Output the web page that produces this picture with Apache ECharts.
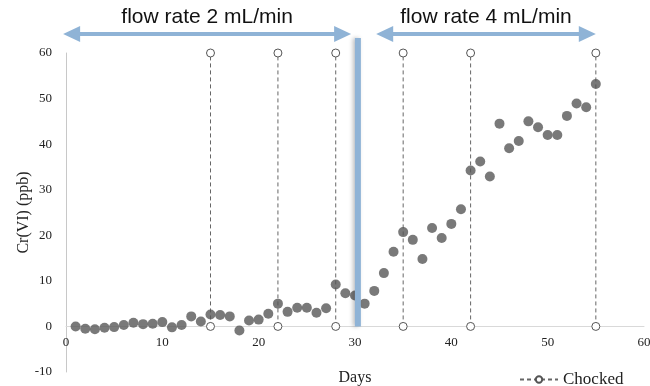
<!DOCTYPE html>
<html><head><meta charset="utf-8">
<script src="https://cdn.jsdelivr.net/npm/echarts@6/dist/echarts.min.js"></script>
<style>html,body{margin:0;padding:0;background:#fff}#c{width:650px;height:386px}</style>
</head><body><div id="c"></div>
<script>
const days = [1,2,3,4,5,6,7,8,9,10,11,12,13,14,15,16,17,18,19,20,21,22,23,24,25,26,27,28,29,30,31,32,33,34,35,36,37,38,39,40,41,42,43,44,45,46,47,48,49,50,51,52,53,54,55];
const cr = [0.0,-0.5,-0.6,-0.3,-0.15,0.3,0.8,0.5,0.6,0.95,-0.2,0.3,2.2,1.1,2.6,2.5,2.2,-0.9,1.3,1.5,2.8,5.0,3.2,4.1,4.1,3.0,4.0,9.2,7.3,6.8,5.0,7.8,11.7,16.4,20.7,19.0,14.8,21.6,19.4,22.5,25.7,34.2,36.2,32.9,44.5,39.1,40.7,45.0,43.7,42.0,42.0,46.2,48.9,48.1,53.2];
const chockedDays = [15,22,28,35,42,55];
const chockedLow = 0, chockedHigh = 60;
const flowChangeDay = 30.3, flowChangeTop = 63.3;
const phaseLabels = ['flow rate 2 mL/min','flow rate 4 mL/min'];
const phaseStart = [-0.3, 32.2];
const phaseEnd = [29.6, 55];
const xMin = 0, xMax = 60, xInterval = 10;
const yMin = -10, yMax = 60, yInterval = 10;

const serif = '"Liberation Serif","Times New Roman",serif';
const sans = '"Liberation Sans",Arial,sans-serif';
const gridTop = 53, gridBottom = 14, H = 386;
const gridH = H - gridTop - gridBottom;
const xAxisOffset = -gridH * (0 - yMin) / (yMax - yMin);
const chart = echarts.init(document.getElementById('c'));

const chockedSeries = chockedDays.map(d => ({
  name: 'Chocked', type: 'line',
  data: [[d, chockedLow], [d, chockedHigh]],
  symbol: 'circle', symbolSize: 8, showSymbol: true,
  lineStyle: {color: '#666', width: 1, type: [4, 3]},
  itemStyle: {color: '#fff', borderColor: '#555', borderWidth: 1},
  z: 3, animation: false
}));

chart.setOption({
  animation: false,
  grid: {left: 66, right: 6, top: gridTop, bottom: gridBottom, containLabel: false, outerBoundsMode: 'none'},
  legend: {
    data: ['Chocked'], left: 514, top: 366, itemWidth: 38, itemHeight: 8, itemGap: 4,
    textStyle: {fontFamily: serif, fontSize: 17, color: '#222'}
  },
  xAxis: {
    type: 'value', min: xMin, max: xMax, interval: xInterval, position: 'bottom', offset: xAxisOffset,
    name: 'Days', nameLocation: 'middle', nameGap: 43, nameMoveOverlap: false,
    nameTextStyle: {fontFamily: serif, fontSize: 16, color: '#222'},
    axisLine: {onZero: false, lineStyle: {color: '#d9d9d9', width: 1}},
    axisTick: {show: false}, splitLine: {show: false},
    axisLabel: {fontFamily: serif, fontSize: 13, color: '#222', margin: 10}
  },
  yAxis: {
    type: 'value', min: yMin, max: yMax, interval: yInterval,
    name: 'Cr(VI) (ppb)', nameLocation: 'middle', nameGap: 34, nameMoveOverlap: false,
    nameTextStyle: {fontFamily: serif, fontSize: 16, color: '#222'},
    axisLine: {show: true, onZero: false, lineStyle: {color: '#c8c8c8', width: 1}},
    axisTick: {show: false}, splitLine: {show: false},
    axisLabel: {fontFamily: serif, fontSize: 13, color: '#222', margin: 14}
  },
  series: [
    {
      name: 'Cr(VI)', type: 'scatter', data: days.map((d, i) => [d, cr[i]]),
      symbolSize: 10, itemStyle: {color: '#575757'}, z: 4
    },
    ...chockedSeries,
    {
      name: 'flowChange', type: 'line', data: [[flowChangeDay, 0], [flowChangeDay, flowChangeTop]],
      symbol: 'none', clip: false, silent: true,
      lineStyle: {color: '#8fb3d6', width: 6, shadowBlur: 4, shadowColor: 'rgba(0,0,0,0.25)', shadowOffsetX: -2},
      z: 6
    }
  ]
});

const arrowColor = '#8fb3d6';
const arrowY = 34, headLen = 17, headHalf = 8, shaftW = 4;
const graphics = [];
phaseLabels.forEach((label, i) => {
  const x1 = chart.convertToPixel({gridIndex: 0}, [phaseStart[i], 0])[0];
  const x2 = chart.convertToPixel({gridIndex: 0}, [phaseEnd[i], 0])[0];
  graphics.push({type: 'line', shape: {x1: x1 + headLen - 2, y1: arrowY, x2: x2 - headLen + 2, y2: arrowY},
    style: {stroke: arrowColor, lineWidth: shaftW}, silent: true});
  graphics.push({type: 'polygon', shape: {points: [[x1, arrowY], [x1 + headLen, arrowY - headHalf], [x1 + headLen, arrowY + headHalf]]},
    style: {fill: arrowColor}, silent: true});
  graphics.push({type: 'polygon', shape: {points: [[x2, arrowY], [x2 - headLen, arrowY - headHalf], [x2 - headLen, arrowY + headHalf]]},
    style: {fill: arrowColor}, silent: true});
  graphics.push({type: 'text', x: (x1 + x2) / 2, y: 17,
    style: {text: label, fill: '#111', font: '21px ' + sans, textAlign: 'center', textVerticalAlign: 'middle'}, silent: true});
});
chart.setOption({graphic: graphics});
</script>
</body></html>
